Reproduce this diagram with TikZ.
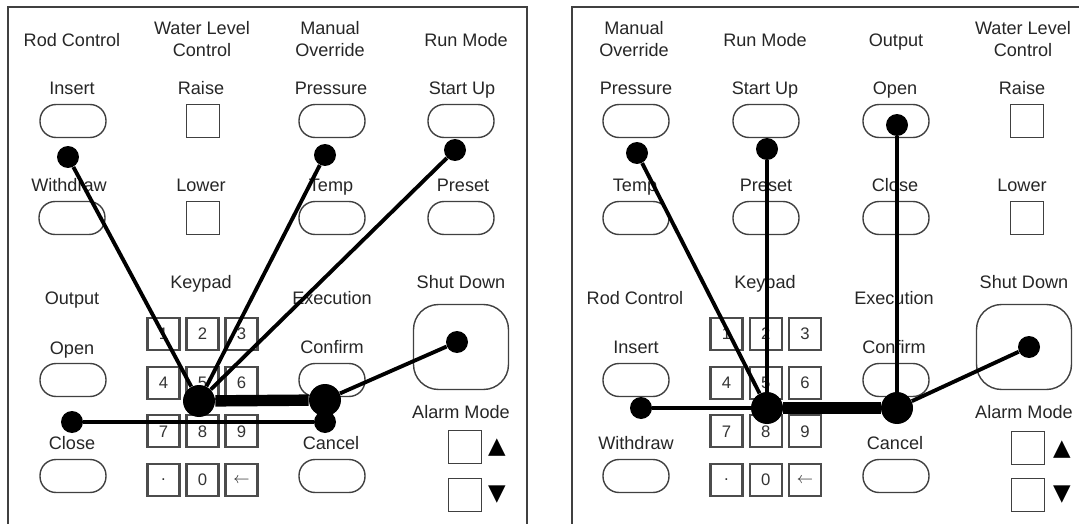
\documentclass[tikz,border=0pt]{standalone}
\usepackage{fontspec}
\setmainfont{Liberation Sans}
\newfontfamily\symfont{DejaVu Sans}
\usepackage{xcolor}
\usepackage{tikz}

\begin{document}
\begin{tikzpicture}[x=0.02cm, y=-0.02cm,
	font=\fontsize{10.3}{12.5}\selectfont,
	lbl/.style={text=black!85, inner sep=0pt, align=center},
	pill/.style={draw=black!75, line width=0.8pt, rounded corners=0.32cm, minimum width=1.32cm, minimum height=0.66cm},
	sqbtn/.style={draw=black!75, line width=0.8pt, minimum width=0.67cm, minimum height=0.67cm},
	bigbtn/.style={draw=black!75, line width=0.8pt, rounded corners=0.5cm, minimum width=1.9cm, minimum height=1.7cm},
	padkey/.style={draw=black!70, line width=1.2pt, minimum size=0.64cm, inner sep=0pt, text=black!80, font=\fontsize{9.5}{11}\selectfont},
	smalldot/.style={circle, fill=black, inner sep=0pt, minimum size=0.44cm},
	hubdot/.style={circle, fill=black, inner sep=0pt, minimum size=0.64cm},
	tri/.style={inner sep=0pt, font=\symfont\fontsize{13}{13}\selectfont},
	wire/.style={line width=2.2pt},
	busline/.style={line width=6.5pt}]
	\useasboundingbox (0,0) rectangle (1079,524);

	% panel frames
	\draw[black!75, line width=0.9pt] (8,524) -- (8,7) -- (527,7) -- (527,524);
	\draw[black!75, line width=0.9pt] (572,524) -- (572,7) -- (1079,7);

	% left panel labels
	\node[lbl] (lrod) at (72,40) {Rod Control};
	\node[lbl] (lwater) at (202,39) {Water Level\\Control};
	\node[lbl] (lmanual) at (330,39) {Manual\\Override};
	\node[lbl] (lrun) at (466,40) {Run Mode};
	\node[lbl] (linsT) at (72,88) {Insert};
	\node[lbl] (lraiseT) at (201,88) {Raise};
	\node[lbl] (lpresT) at (331,88) {Pressure};
	\node[lbl] (lstartT) at (462,90) {Start Up};
	\node[lbl] (lwithT) at (69,185) {Withdraw};
	\node[lbl] (llowerT) at (201,185) {Lower};
	\node[lbl] (ltempT) at (331,187) {Temp};
	\node[lbl] (lpresetT) at (463,185) {Preset};
	\node[lbl] (lkeypad) at (201,284) {Keypad};
	\node[lbl] (loutput) at (72,300) {Output};
	\node[lbl] (lexec) at (332,298) {Execution};
	\node[lbl] (lshutT) at (461,282) {Shut Down};
	\node[lbl] (lopenT) at (72,350) {Open};
	\node[lbl] (lconfT) at (332,347) {Confirm};
	\node[lbl] (lalarm) at (461,412) {Alarm Mode};
	\node[lbl] (lcloseT) at (72,443) {Close};
	\node[lbl] (lcancT) at (331,443) {Cancel};

	% left panel buttons
	\node[pill] (lins) at (73,121) {};
	\node[sqbtn] (lraise) at (203,121) {};
	\node[pill] (lpres) at (332,121) {};
	\node[pill] (lstart) at (461,121) {};
	\node[pill] (lwith) at (72,218) {};
	\node[sqbtn] (llower) at (203,218) {};
	\node[pill] (ltemp) at (332,218) {};
	\node[pill] (lpreset) at (461,218) {};
	\node[pill] (lopen) at (73,380) {};
	\node[pill] (lconf) at (332,380) {};
	\node[pill] (lclose) at (73,476) {};
	\node[pill] (lcanc) at (332,476) {};
	\node[bigbtn] (lshut) at (461,347) {};
	\node[sqbtn] (lup) at (465,447) {};
	\node[sqbtn] (ldown) at (465,495) {};
	\node[tri] (luparr) at (497,448) {▲};
	\node[tri] (ldownarr) at (497,495) {▼};

	% right panel labels
	\node[lbl] (rmanual) at (634,39) {Manual\\Override};
	\node[lbl] (rrun) at (765,40) {Run Mode};
	\node[lbl] (routput) at (896,42) {Output};
	\node[lbl] (rwater) at (1023,39) {Water Level\\Control};
	\node[lbl] (rpresT) at (636,88) {Pressure};
	\node[lbl] (rstartT) at (765,90) {Start Up};
	\node[lbl] (ropenT) at (895,90) {Open};
	\node[lbl] (rraiseT) at (1022,88) {Raise};
	\node[lbl] (rtempT) at (635,187) {Temp};
	\node[lbl] (rpresetT) at (766,185) {Preset};
	\node[lbl] (rcloseT) at (895,185) {Close};
	\node[lbl] (rlowerT) at (1022,185) {Lower};
	\node[lbl] (rkeypad) at (765,284) {Keypad};
	\node[lbl] (rrod) at (635,298) {Rod Control};
	\node[lbl] (rexec) at (894,298) {Execution};
	\node[lbl] (rshutT) at (1024,282) {Shut Down};
	\node[lbl] (rinsT) at (636,347) {Insert};
	\node[lbl] (rconfT) at (894,347) {Confirm};
	\node[lbl] (ralarm) at (1024,412) {Alarm Mode};
	\node[lbl] (rwithT) at (636,443) {Withdraw};
	\node[lbl] (rcancT) at (895,443) {Cancel};

	% right panel buttons
	\node[pill] (rpres) at (636,121) {};
	\node[pill] (rstart) at (766,121) {};
	\node[pill] (ropen) at (896,121) {};
	\node[sqbtn] (rraise) at (1027,121) {};
	\node[pill] (rtemp) at (636,218) {};
	\node[pill] (rpreset) at (766,218) {};
	\node[pill] (rclose) at (896,218) {};
	\node[sqbtn] (rlower) at (1027,218) {};
	\node[pill] (rins) at (636,380) {};
	\node[pill] (rconf) at (896,380) {};
	\node[pill] (rwith) at (636,476) {};
	\node[pill] (rcanc) at (896,476) {};
	\node[bigbtn] (rshut) at (1024,347) {};
	\node[sqbtn] (rup) at (1028,448) {};
	\node[sqbtn] (rdown) at (1028,495) {};
	\node[tri] (ruparr) at (1062,450) {▲};
	\node[tri] (rdownarr) at (1062,495) {▼};

	% keypads
	\foreach \lab [count=\i from 0] in {1,2,3,4,5,6,7,8,9,.,0,{$\leftarrow$}} {
		\pgfmathtruncatemacro{\kc}{mod(\i,3)}
		\pgfmathtruncatemacro{\kr}{div(\i,3)}
		\node[padkey] (lk\i) at (163.5+39*\kc, 334+48.7*\kr) {\lab};
		\node[padkey] (rk\i) at (726.5+39.3*\kc, 334+48.7*\kr) {\lab};
	}

	% left panel dots
	\node[smalldot] (linsD) at (68,157) {};
	\node[smalldot] (lpresD) at (325,155) {};
	\node[smalldot] (lstartD) at (455,150) {};
	\node[hubdot] (lhubA) at (199,401) {};
	\node[hubdot] (lhubB) at (325,400) {};
	\node[smalldot] (lshutD) at (457,342) {};
	\node[smalldot] (lcloseD) at (72,422) {};
	\node[smalldot] (lcancD) at (325,422) {};

	\draw[wire] (linsD) -- (lhubA);
	\draw[wire] (lpresD) -- (lhubA);
	\draw[wire] (lstartD) -- (lhubA);
	\draw[busline] (lhubA) -- (lhubB);
	\draw[wire] (lhubB) -- (lshutD);
	\draw[wire] (lcloseD) -- (lcancD);

	% right panel dots
	\node[smalldot] (rpresD) at (637,153) {};
	\node[smalldot] (rstartD) at (767,149) {};
	\node[smalldot] (ropenD) at (897,125) {};
	\node[smalldot] (rinsD) at (641,408) {};
	\node[hubdot] (rhubA) at (767,408) {};
	\node[hubdot] (rhubB) at (897,408) {};
	\node[smalldot] (rshutD) at (1029,347) {};

	\draw[wire] (rpresD) -- (rhubA);
	\draw[wire] (rstartD) -- (rhubA);
	\draw[wire] (rinsD) -- (rhubA);
	\draw[busline] (rhubA) -- (rhubB);
	\draw[wire] (ropenD) -- (rhubB);
	\draw[wire] (rhubB) -- (rshutD);
\end{tikzpicture}
\end{document}
